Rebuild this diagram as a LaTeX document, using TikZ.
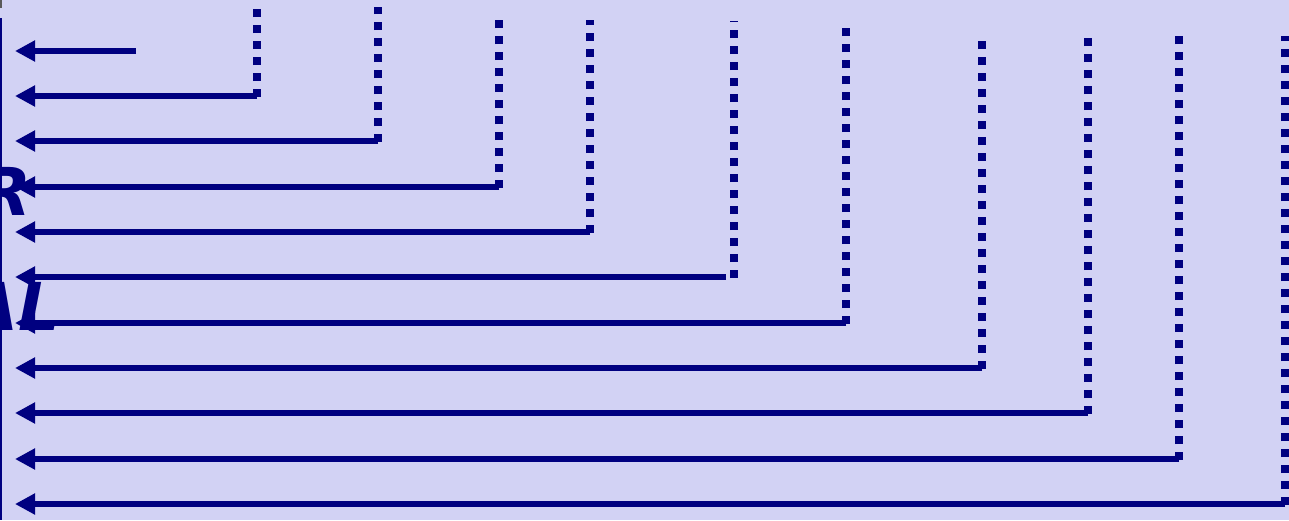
\documentclass[tikz,border=0pt]{standalone}
\usepackage{fontspec}
\newfontfamily\dvsans{DejaVu Sans}
\usetikzlibrary{arrows.meta}
\definecolor{bgc}{RGB}{210,210,244}
\definecolor{navy}{RGB}{0,0,128}
\tikzset{
  arrowline/.style={draw=navy, line width=6pt, -{Triangle[length=20pt,width=20pt]}},
  dotline/.style={draw=navy, line width=8pt, dash pattern=on 8pt off 8pt},
  cuttext/.style={text=navy, inner sep=0pt, font=\dvsans\bfseries\itshape\fontsize{66}{70}\selectfont},
}
\begin{document}
\begin{tikzpicture}[x=1pt,y=-1pt]
\useasboundingbox (0,0) rectangle (1289,520);
\fill[bgc] (0,0) rectangle (1289,520);
\clip (0,0) rectangle (1289,520);
% left border
\coordinate (lt) at (1,0);
\coordinate (lm) at (1,8);
\coordinate (lb1) at (1,18);
\coordinate (lb2) at (1,520);
\draw[gray!70!black, line width=2pt] (lt) -- (lm);
\draw[navy, line width=2pt] (lb1) -- (lb2);
% text fragments
\node[cuttext, anchor=base east] (tR) at (32,215) {R};
\node[cuttext, anchor=base east] (tAL) at (61,330) {AL};
% first arrow
\coordinate (e1) at (136,51);
\coordinate (s1) at (15,51);
\draw[arrowline] (e1) -- (s1);
% remaining arrows with dotted verticals
\foreach \i/\y/\xd/\xe/\top in {2/96/257/257/9, 3/141/378/378/7, 4/187/499/499/20,
  5/232/590/590/20, 6/277/734/726/21, 7/323/846/846/27, 8/368/982/982/41,
  9/413/1088/1088/38, 10/459/1179/1179/36, 11/504/1285/1285/36}{
  \coordinate (e\i) at (\xe,\y);
  \coordinate (s\i) at (15,\y);
  \coordinate (db\i) at (\xd,\y+1);
  \coordinate (dt\i) at (\xd,\top);
  \draw[dotline] (db\i) -- (dt\i);
  \draw[arrowline] (e\i) -- (s\i);
}
\end{tikzpicture}
\end{document}
